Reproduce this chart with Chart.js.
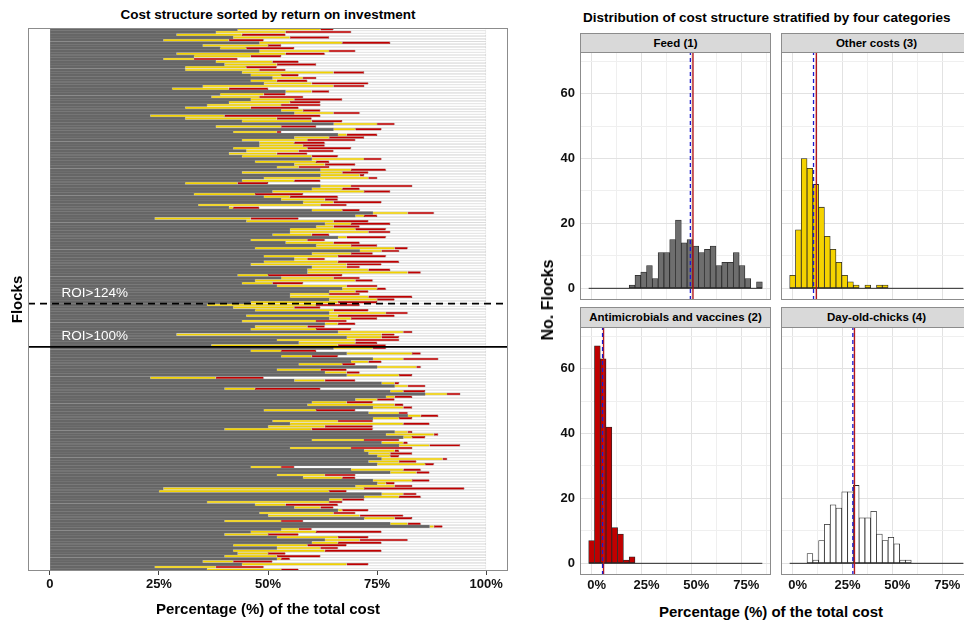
<!DOCTYPE html>
<html>
<head>
<meta charset="utf-8">
<script src="https://cdn.jsdelivr.net/npm/chart.js@4.4.1/dist/chart.umd.min.js"></script>
<style>
  body { margin: 0; width: 964px; height: 622px; overflow: hidden; background: #fff; position: relative;
         font-family: "Liberation Sans", Arial, sans-serif; color: #000; }
  canvas, .txt, .strip { position: absolute; }
  .title { font-weight: bold; font-size: 13.5px; line-height: 16px; white-space: nowrap; }
  .strip { background: #d9d9d9; border: 1px solid #8c8c8c; box-sizing: border-box; text-align: center;
           font-weight: bold; font-size: 11.5px; line-height: 18px; white-space: nowrap; overflow: hidden; }
  .axt { font-weight: bold; font-size: 15px; white-space: nowrap; transform: translate(-50%, -50%); }
</style>
</head>
<body>
<div class="txt title" style="left:28px;width:480px;top:7px;text-align:center">Cost structure sorted by return on investment</div>
<div class="txt title" style="left:583px;top:10px">Distribution of cost structure stratified by four categories</div>

<canvas id="left" width="520" height="594" style="left:0;top:28px"></canvas>

<div class="strip" style="left:580px;top:33px;width:191px;height:20px">Feed (1)</div>
<div class="strip" style="left:781px;top:33px;width:191px;height:20px">Other costs (3)</div>
<div class="strip" style="left:580px;top:307px;width:191px;height:21px">Antimicrobials and vaccines (2)</div>
<div class="strip" style="left:781px;top:307px;width:191px;height:21px">Day-old-chicks (4)</div>

<canvas id="fFeed" width="231" height="248" style="left:540px;top:52px"></canvas>
<canvas id="fOther" width="191" height="248" style="left:781px;top:52px"></canvas>
<canvas id="fAm" width="231" height="270" style="left:540px;top:327px"></canvas>
<canvas id="fDoc" width="191" height="270" style="left:781px;top:327px"></canvas>

<div class="txt axt" style="left:548px;top:300px;font-size:16px;transform:translate(-50%,-50%) rotate(-90deg)">No. Flocks</div>
<div class="txt axt" style="left:771px;top:611px">Percentage (%) of the total cost</div>

<script>
// left panel: cumulative share (%) where each cost block ends, one entry per flock, sorted by ROI
const feedEnd = [
  43,38,29,42,26,48,35,39,48,29, 33,26,38,40,31,31,44,46,51,46,
  49,35,28,54,39,37,46,41,36,31, 53,56,23,31,44,65,38,65,42,66,
  56,44,48,48,42,45,41,44,60,47, 56,52,62,44,62,49,44,31,62,60,
  51,33,49,53,58,34,41,60,74,70, 24,45,63,61,55,55,51,66,46,54,
  61,47,71,60,49,56,49,46,60,59, 59,43,53,47,44,52,67,64,55,55,
  64,46,36,42,47,64,45,64,44,63, 47,46,66,29,68,52,57,37,65,46,
  68,53,74,69,57,75,52,63,68,23, 56,76,79,40,78,86,77,70,60,59,
  74,49,73,82,74,51,55,50,40,79, 77,81,60,76,80,55,72,73,75,76,
  73,75,46,69,78,52,58,74,75,70, 26,25,76,72,64,36,47,56,66,48,
  50,72,40,78,87,53,46,40,52,63, 60,42,52,42,43,40,52,35,44,24,36
];
const otherEnd = [
  62,54,44,55,41,67,50,45,64,54, 46,33,51,52,45,48,65,53,58,52,
  60,65,41,60,49,48,56,55,53,46, 58,65,40,52,60,75,53,70,52,68,
  64,59,56,58,59,57,52,60,72,61, 63,57,69,67,71,73,56,43,69,67,
  72,47,55,63,65,62,42,67,82,72, 46,65,69,65,70,73,60,68,59,65,
  69,79,76,69,66,59,66,68,68,73, 82,50,65,70,51,68,75,70,64,73,
  75,66,61,56,65,77,66,69,61,66, 59,61,81,76,76,70,70,66,74,53,
  83,60,81,73,67,84,62,68,80,38, 63,79,82,47,81,91,79,75,68,79,
  81,61,80,85,80,66,81,63,60,82, 88,83,72,81,87,69,79,78,78,90,
  80,86,53,81,84,63,67,83,77,79, 72,64,81,80,67,64,54,62,67,65,
  71,79,53,82,88,57,61,50,66,71, 66,59,62,63,50,52,53,42,68,38,53
];
const amEnd = [
  65,69,54,64,49,78,53,56,70,63, 53,43,57,61,52,54,72,57,61,59,
  73,72,50,64,54,58,67,62,62,57, 62,71,62,60,67,79,61,76,53,75,
  72,70,63,63,69,65,59,66,76,64, 70,64,77,73,72,75,62,50,83,71,
  78,58,66,66,76,68,48,71,88,75, 57,73,78,71,77,78,64,77,63,71,
  75,82,80,74,77,63,80,76,71,78, 85,67,71,74,58,75,77,73,71,83,
  79,75,71,62,73,82,79,75,68,70, 63,69,83,79,80,80,75,77,77,61,
  85,66,89,76,70,85,68,71,83,49, 70,80,86,62,86,94,83,79,74,81,
  83,70,82,89,83,74,87,74,74,83, 89,86,80,82,94,83,80,83,80,91,
  84,88,56,85,87,70,70,87,79,83, 95,68,84,85,72,67,66,65,73,70,
  81,83,58,85,90,60,76,57,73,82, 76,68,66,76,54,62,55,51,73,49,57
];
const flockRank = feedEnd.map((_, i) => String(i + 1));
const leftTicks = [0, 25, 50, 75, 100];
// first flock below each ROI threshold line
const roiCuts = [
  { row: 102, text: "ROI>124%", dash: [7, 5] },
  { row: 118, text: "ROI>100%", dash: [] }
];

// right panels: histogram bins (% of total cost) and flock counts
const binCenters = [0, 2.9, 5.8, 8.7, 11.6, 14.5, 17.4, 20.3, 23.2, 26.1, 29, 31.9, 34.8, 37.7, 40.6,
  43.5, 46.4, 49.3, 52.2, 55.1, 58, 60.9, 63.8, 66.7, 69.6, 72.5, 75.4, 78.3, 81.2, 84.1];
const feedCounts  = [0,0,0,0,0,0,0,1,4,5,7,3,11,11,15,21,14,15,13,11,12,13,7,8,8,11,7,3,0,2];
const otherCounts = [4,18,40,37,32,25,16,12,8,4,2,1,0,1,0,1,1,0,0,0,0,0,0,0,0,0,0,0,0,0];
const amCounts    = [7,67,63,42,11,9,1,2,0,0,0,0,0,0,0,0,0,0,0,0,0,0,0,0,0,0,0,0,0,0];
const docCounts   = [0,0,0,3,1,7,12,18,17,22,22,24,14,14,16,9,7,8,6,1,1,0,0,0,0,0,0,0,0,0];
const meanPct   = { feed: 50.8, other: 11.9, am: 6.0, doc: 31.0 };
const medianPct = { feed: 49.5, other: 10.5, am: 5.5, doc: 30.2 };
const facetXTicks = [0, 12.5, 25, 37.5, 50, 62.5, 75, 87.5];
const facetYTicks = [0, 10, 20, 30, 40, 50, 60, 70];

Chart.defaults.font.family = '"Liberation Sans", Arial, sans-serif';
Chart.defaults.color = "#000";

function noPad(s) {
  s.paddingTop = 0; s.paddingBottom = 0; s.paddingLeft = 0; s.paddingRight = 0;
}

const panelBox = {
  id: "panelBox",
  afterDraw(chart) {
    const { ctx, chartArea: a } = chart;
    ctx.save();
    ctx.strokeStyle = "#8c8c8c";
    ctx.lineWidth = 1;
    ctx.strokeRect(Math.round(a.left) + 0.5, Math.round(a.top) + 0.5,
      Math.round(a.right - a.left) - 1, Math.round(a.bottom - a.top) - 1);
    ctx.restore();
  }
};

const roiLines = {
  id: "roiLines",
  afterDatasetsDraw(chart) {
    const { ctx, chartArea: a } = chart;
    const ys = chart.scales.y, xs = chart.scales.x;
    roiCuts.forEach((c) => {
      const y = (ys.getPixelForValue(c.row - 1) + ys.getPixelForValue(c.row)) / 2;
      ctx.save();
      ctx.strokeStyle = "#000";
      ctx.lineWidth = 1.8;
      ctx.setLineDash(c.dash);
      ctx.beginPath();
      ctx.moveTo(a.left, y);
      ctx.lineTo(a.right, y);
      ctx.stroke();
      ctx.fillStyle = "#fff";
      ctx.font = '13.5px "Liberation Sans", Arial, sans-serif';
      ctx.textBaseline = "bottom";
      ctx.fillText(c.text, xs.getPixelForValue(2.7), y - 4);
      ctx.restore();
    });
  }
};

new Chart(document.getElementById("left"), {
  type: "bar",
  data: {
    labels: flockRank,
    datasets: [
      { label: "Feed", data: feedEnd.map((v) => [0, v]), backgroundColor: "#666666", borderColor: "#858585",
        barPercentage: 1 },
      { label: "Other costs", data: feedEnd.map((v, i) => [v, otherEnd[i]]), backgroundColor: "#f2d100", borderColor: "#b09800" },
      { label: "Antimicrobials and vaccines", data: otherEnd.map((v, i) => [v, amEnd[i]]), backgroundColor: "#c00000", borderColor: "#800000" },
      { label: "Day-old-chicks", data: amEnd.map((v) => [v, 100]), backgroundColor: "#ffffff", borderColor: "#b0b0b0" }
    ]
  },
  options: {
    indexAxis: "y",
    responsive: false,
    animation: false,
    layout: { padding: { right: 12 } },
    datasets: { bar: { grouped: false, barPercentage: 0.92, categoryPercentage: 1, borderWidth: 0.5, borderSkipped: false } },
    plugins: { legend: { display: false }, tooltip: { enabled: false } },
    scales: {
      x: {
        type: "linear", min: -5, max: 105,
        afterBuildTicks: (s) => { s.ticks = leftTicks.map((v) => ({ value: v })); },
        afterFit: (s) => { s.height = 51; noPad(s); },
        grid: { drawOnChartArea: false, drawTicks: true, tickLength: 4, color: "#444" },
        border: { display: false },
        ticks: { padding: 2, color: "#111", font: { size: 13, weight: "bold" }, maxRotation: 0,
                 callback: (v) => (v === 0 ? "0" : v + "%") },
        title: { display: true, text: "Percentage (%) of the total cost", color: "#000",
                 font: { size: 15, weight: "bold" }, padding: { top: 0, bottom: 3 } }
      },
      y: {
        type: "category",
        afterFit: (s) => { s.width = 28; noPad(s); },
        grid: { display: false },
        border: { display: false },
        ticks: { display: false },
        title: { display: true, text: "Flocks", color: "#000", font: { size: 15, weight: "bold" },
                 padding: { top: 9, bottom: 0 } }
      }
    }
  },
  plugins: [roiLines, panelBox]
});

function facet(id, counts, fill, key, showY, showX) {
  const yMin = -3.6, yMax = 72.8;
  return new Chart(document.getElementById(id), {
    type: "bar",
    data: {
      datasets: [
        { type: "line", data: [{ x: medianPct[key], y: yMin }, { x: medianPct[key], y: yMax }],
          borderColor: "#1a1ad0", borderWidth: 1.3, borderDash: [4, 3], pointRadius: 0, order: 0 },
        { type: "line", data: [{ x: meanPct[key], y: yMin }, { x: meanPct[key], y: yMax }],
          borderColor: "#b3171b", borderWidth: 1.4, pointRadius: 0, order: 1 },
        { type: "bar", data: binCenters.map((x, i) => ({ x: x, y: counts[i] })),
          backgroundColor: fill, borderColor: "#262626", borderWidth: 0.8, borderSkipped: false,
          barPercentage: 1, categoryPercentage: 1, order: 2 },
        { type: "line", data: [{ x: binCenters[0] - 1.45, y: 0 }, { x: binCenters[binCenters.length - 1] + 1.45, y: 0 }],
          borderColor: "#262626", borderWidth: 1, pointRadius: 0, order: 3 }
      ]
    },
    options: {
      responsive: false,
      animation: false,
      layout: { padding: 0 },
      plugins: { legend: { display: false }, tooltip: { enabled: false } },
      scales: {
        x: {
          type: "linear", min: -5.8, max: 89.9, offset: false,
          afterBuildTicks: (s) => { s.ticks = facetXTicks.map((v) => ({ value: v })); },
          afterFit: (s) => { s.height = showX ? 22 : 0; noPad(s); },
          grid: { offset: false, drawTicks: false,
                  color: (c) => (c.tick && c.tick.value % 25 === 0 ? "#e2e2e2" : "#efefef") },
          border: { display: false },
          ticks: { display: showX, padding: 3, labelOffset: 5, autoSkip: false, maxRotation: 0,
                   color: "#111", font: { size: 13, weight: "bold" },
                   callback: (v) => (v % 25 === 0 ? v + "%" : "") }
        },
        y: {
          type: "linear", min: yMin, max: yMax,
          afterBuildTicks: (s) => { s.ticks = facetYTicks.map((v) => ({ value: v })); },
          afterFit: (s) => { s.width = showY ? 40 : 0; noPad(s); },
          grid: { drawTicks: false,
                  color: (c) => (c.tick && c.tick.value % 20 === 0 ? "#e2e2e2" : "#efefef") },
          border: { display: false },
          ticks: { display: showY, padding: 5, color: "#111", font: { size: 13, weight: "bold" },
                   callback: (v) => (v % 20 === 0 ? String(v) : "") }
        }
      }
    },
    plugins: [panelBox]
  });
}

facet("fFeed", feedCounts, "#6e6e6e", "feed", true, false);
facet("fOther", otherCounts, "#f5d300", "other", false, false);
facet("fAm", amCounts, "#c00000", "am", true, true);
facet("fDoc", docCounts, "#ffffff", "doc", false, true);
</script>
</body>
</html>
